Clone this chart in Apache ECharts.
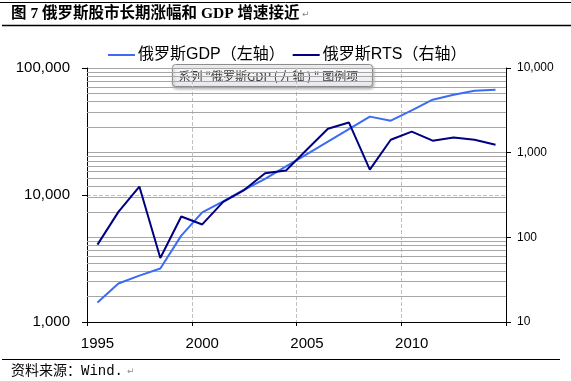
<!DOCTYPE html>
<html>
<head>
<meta charset="utf-8">
<script src="https://cdn.jsdelivr.net/npm/echarts@6/dist/echarts.min.js"></script>
<style>
html,body{margin:0;padding:0;background:#fff;}
#chart{width:571px;height:381px;}
</style>
</head>
<body>
<div id="chart"></div>
<script>
var years = ['1995','1996','1997','1998','1999','2000','2001','2002','2003','2004','2005','2006','2007','2008','2009','2010','2011','2012','2013','2014'];
var gdpValues = [1427, 2010, 2320, 2640, 4790, 7300, 8900, 11000, 13400, 16800, 21000, 26300, 33000, 41400, 38500, 46400, 56300, 61600, 66200, 67400];
var rtsValues = [82, 200, 398, 57, 176, 142, 262, 362, 570, 615, 1090, 1915, 2275, 630, 1420, 1770, 1385, 1510, 1420, 1240];
var rightMinorGrid = [20,30,40,50,60,70,80,90,200,300,400,500,600,700,800,900,2000,3000,4000,5000,6000,7000,8000,9000];
var seriesNames = ['俄罗斯GDP（左轴）', '俄罗斯RTS（右轴）'];
var titleText = '图 7 俄罗斯股市长期涨幅和 GDP 增速接近';
var sourceText = '资料来源：Wind.';
var hoverText = '系列 "俄罗斯GDP ( 左轴 ) " 图例项';

var chart = echarts.init(document.getElementById('chart'), null, {renderer: 'canvas'});
function fmt(v){ return Math.round(v).toLocaleString('en-US'); }
var gridColor = '#a6a6a6';
var option = {
  animation: false,
  backgroundColor: '#ffffff',
  textStyle: {fontFamily: "'Liberation Sans', 'Noto Sans CJK SC', sans-serif"},
  legend: {
    left: 103, top: 42,
    icon: 'rect',
    itemWidth: 27, itemHeight: 2, itemGap: 8,
    textStyle: {fontSize: 16, color: '#000', padding: [0, 0, 0, -2], fontFamily: "'Liberation Sans', 'Noto Sans CJK SC', sans-serif"},
    data: seriesNames
  },
  grid: {left: 87, right: 65, top: 68, height: 254, containLabel: false},
  xAxis: {
    type: 'category',
    data: years,
    boundaryGap: true,
    axisLine: {lineStyle: {color: '#000', width: 1}},
    axisTick: {show: true, interval: 4, length: 4, inside: false, lineStyle: {color: '#000'}},
    axisLabel: {interval: 4, fontSize: 15, color: '#000', margin: 14},
    splitLine: {show: true, interval: 4, lineStyle: {color: '#c0c0c0', type: 'dashed', width: 1}}
  },
  yAxis: [
    {
      type: 'log', logBase: 10, min: 1000, max: 100000,
      axisLine: {show: true, lineStyle: {color: '#000', width: 1}},
      axisTick: {show: true, length: 5, lineStyle: {color: '#000'}},
      axisLabel: {fontSize: 15, color: '#000', margin: 17, formatter: fmt},
      splitLine: {show: true, lineStyle: {color: '#c0c0c0', type: 'dashed', width: 1}}
    },
    {
      type: 'log', logBase: 10, min: 10, max: 10000,
      position: 'right',
      axisLine: {show: true, lineStyle: {color: '#000', width: 1}},
      axisTick: {show: true, length: 5, lineStyle: {color: '#000'}},
      axisLabel: {fontSize: 12, color: '#000', margin: 11, formatter: fmt},
      splitLine: {show: true, lineStyle: {color: gridColor, type: 'solid', width: 1}}
    }
  ],
  series: [
    {
      name: 'minorGrid', type: 'line', yAxisIndex: 1, data: [], z: 1, silent: true,
      markLine: {
        silent: true, symbol: 'none', z: 1, animation: false,
        label: {show: false},
        lineStyle: {color: gridColor, type: 'solid', width: 1},
        emphasis: {disabled: true},
        data: rightMinorGrid.map(function(v){ return {yAxis: v}; })
      }
    },
    {
      name: seriesNames[0], type: 'line', yAxisIndex: 0, data: gdpValues,
      symbol: 'none', showSymbol: false, z: 3,
      lineStyle: {color: '#3a6cf4', width: 2}, itemStyle: {color: '#3a6cf4'}
    },
    {
      name: seriesNames[1], type: 'line', yAxisIndex: 1, data: rtsValues,
      symbol: 'none', showSymbol: false, z: 4,
      lineStyle: {color: '#000080', width: 2}, itemStyle: {color: '#000080'}
    }
  ],
  graphic: [
    {type: 'line', shape: {x1: 0, y1: 2.5, x2: 571, y2: 2.5}, style: {stroke: '#000', lineWidth: 1}},
    {type: 'text', left: 11, top: 6, style: {text: titleText, fontSize: 15.5, fontWeight: 'bold', fill: '#000', fontFamily: "'Liberation Serif', 'Noto Sans CJK SC', serif"}},
    {type: 'text', left: 302, top: 10, style: {text: '\u21B5', fontSize: 9, fill: '#888', fontFamily: "'DejaVu Sans'"}},
    {type: 'line', shape: {x1: 2, y1: 25.5, x2: 571, y2: 25.5}, style: {stroke: '#000', lineWidth: 1.5}},
    {type: 'line', shape: {x1: 2, y1: 359.5, x2: 560, y2: 359.5}, style: {stroke: '#000', lineWidth: 1}},
    {type: 'text', left: 11, top: 364, style: {text: sourceText, fontSize: 14, fill: '#000', fontFamily: "'Liberation Mono', 'Noto Sans CJK SC', monospace"}},
    {type: 'text', left: 127, top: 367, style: {text: '\u21B5', fontSize: 9, fill: '#888', fontFamily: "'DejaVu Sans'"}},
    {
      type: 'group', left: 172, top: 64, z: 100,
      children: [
        {type: 'rect', shape: {x: 0, y: 0, width: 200, height: 22, r: 3},
         style: {fill: new echarts.graphic.LinearGradient(0,0,0,1,[{offset:0,color:'#ffffff'},{offset:1,color:'#e6e6ee'}]),
                 stroke: '#8c8c8c', lineWidth: 1, shadowBlur: 3, shadowOffsetX: 1, shadowOffsetY: 2, shadowColor: 'rgba(0,0,0,0.3)'}},
        {type: 'text', x: 6, y: 11.5, style: {text: hoverText, fontSize: 12, fill: '#3c3c3c', verticalAlign: 'middle', fontFamily: "'Noto Sans CJK SC', sans-serif"}}
      ]
    }
  ]
};
chart.setOption(option);
</script>
</body>
</html>
